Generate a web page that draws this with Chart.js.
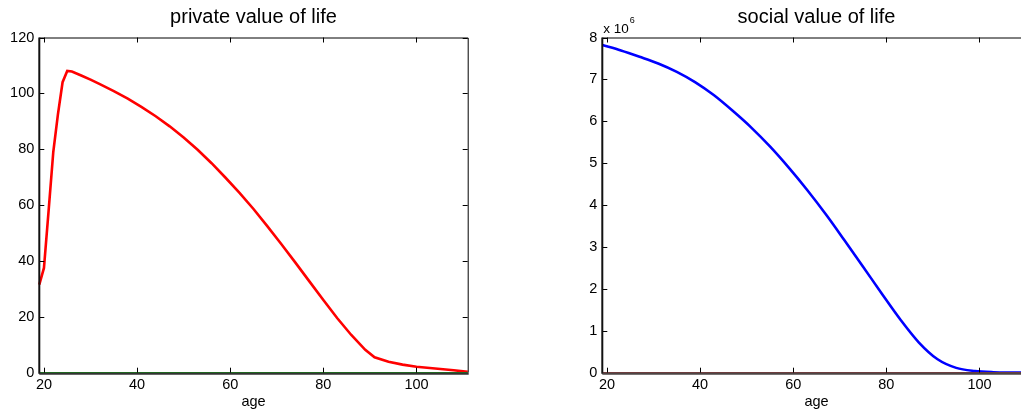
<!DOCTYPE html>
<html>
<head>
<meta charset="utf-8">
<script src="https://cdn.jsdelivr.net/npm/chart.js@4.4.1/dist/chart.umd.min.js"></script>
<style>
  html, body { margin: 0; padding: 0; background: #fff; overflow: hidden; width: 1021px; height: 416px; }
  canvas { position: absolute; top: 0; }
  #privateChart { left: 0; }
  #socialChart { left: 560px; }
</style>
</head>
<body>
<canvas id="privateChart" width="480" height="416"></canvas>
<canvas id="socialChart" width="480" height="416"></canvas>
<script>
// private value of life
const privateAges = [19, 20, 21, 22, 23, 24, 25, 26, 28, 30, 32, 35, 38, 41, 44, 47, 50, 53, 56, 59, 62, 65, 68, 71, 74, 77, 80, 83, 86, 89, 91, 94, 97, 100, 104, 108, 111];
const privateValue = [31.5, 37.5, 58, 79, 92.5, 104, 108, 107.8, 106.4, 104.9, 103.3, 100.8, 98.1, 95.1, 91.8, 88.2, 84.2, 79.8, 75.0, 69.8, 64.4, 58.6, 52.4, 46.0, 39.4, 32.7, 26.0, 19.5, 13.5, 8.2, 5.5, 3.9, 2.9, 2.1, 1.5, 0.9, 0.3];

// social value of life
const socialAges = [19, 23, 27, 31, 35, 39, 43, 47, 51, 55, 59, 63, 67, 71, 75, 79, 83, 87, 91, 95, 99, 103, 107, 111];
const socialValue = [7.82e6, 7.69e6, 7.54e6, 7.38e6, 7.18e6, 6.93e6, 6.62e6, 6.25e6, 5.85e6, 5.40e6, 4.90e6, 4.36e6, 3.78e6, 3.16e6, 2.53e6, 1.89e6, 1.27e6, 0.72e6, 0.32e6, 0.115e6, 0.04e6, 0.012e6, 0.003e6, 0];

// flat series at zero
const zeroAges = [19, 111];
const zeroValue = [0, 0];

const xTicks = [20, 40, 60, 80, 100];
const privateYTicks = [0, 20, 40, 60, 80, 100, 120];
const socialYTicks = [0, 1e6, 2e6, 3e6, 4e6, 5e6, 6e6, 7e6, 8e6];

const FONT = "'Liberation Sans', Arial, Helvetica, sans-serif";

function points(xs, ys) {
  return xs.map((x, i) => ({ x: x, y: ys[i] }));
}

// matlab style box with inward ticks
const framePlugin = {
  id: 'frame',
  afterDatasetsDraw(chart, args, opts) {
    const { ctx, chartArea: a, scales } = chart;
    const x = scales.x, y = scales.y;
    const tl = 5;
    ctx.save();
    ctx.strokeStyle = '#000';
    ctx.lineWidth = 1;
    ctx.beginPath();
    ctx.moveTo(a.left, a.top + 0.5);
    ctx.lineTo(a.right + 0.5, a.top + 0.5);
    ctx.lineTo(a.right + 0.5, a.bottom);
    ctx.stroke();
    x.ticks.forEach(t => {
      const px = Math.round(x.getPixelForValue(t.value)) + 0.5;
      ctx.beginPath();
      ctx.moveTo(px, a.top); ctx.lineTo(px, a.top + tl);
      ctx.moveTo(px, a.bottom); ctx.lineTo(px, a.bottom - tl);
      ctx.stroke();
    });
    y.ticks.forEach(t => {
      const py = Math.round(y.getPixelForValue(t.value)) + 0.5;
      ctx.beginPath();
      ctx.moveTo(a.left, py); ctx.lineTo(a.left + tl, py);
      ctx.moveTo(a.right, py); ctx.lineTo(a.right - tl, py);
      ctx.stroke();
    });
    ctx.lineWidth = 2;
    ctx.strokeStyle = '#111';
    ctx.beginPath();
    ctx.moveTo(a.left, a.top);
    ctx.lineTo(a.left, a.bottom + 1);
    ctx.stroke();
    ctx.strokeStyle = opts.bottomColor || '#444';
    ctx.beginPath();
    ctx.moveTo(a.left, a.bottom + 1);
    ctx.lineTo(a.right + 1, a.bottom + 1);
    ctx.stroke();
    if (opts.exponent) {
      ctx.fillStyle = '#000';
      ctx.textAlign = 'left';
      ctx.textBaseline = 'alphabetic';
      ctx.font = '13.5px ' + FONT;
      ctx.fillText('x 10', a.left + 1, a.top - 5);
      const w = ctx.measureText('x 10').width;
      ctx.font = '9px ' + FONT;
      ctx.fillText(opts.exponent, a.left + 1 + w + 1, a.top - 15);
    }
    ctx.restore();
  }
};

function makeChart(id, series, yMax, yTicks, title, yAxisWidth, rightPad, frameOpts) {
  return new Chart(document.getElementById(id), {
    type: 'line',
    data: { datasets: series },
    options: {
      responsive: false,
      animation: false,
      events: [],
      layout: { padding: { left: 0, right: rightPad, top: 0, bottom: 0 } },
      elements: { point: { radius: 0 } },
      scales: {
        x: {
          type: 'linear',
          min: 19,
          max: 111,
          afterBuildTicks: s => { s.ticks = xTicks.map(v => ({ value: v })); },
          afterFit: s => { s.height = 43.3; },
          grid: { display: false, drawTicks: false },
          border: { display: false },
          ticks: { color: '#000', padding: 4, font: { family: FONT, size: 14.5 } },
          title: { display: true, text: 'age', color: '#000', padding: { top: 0, bottom: 5 }, font: { family: FONT, size: 14.5 } }
        },
        y: {
          min: 0,
          max: yMax,
          afterBuildTicks: s => { s.ticks = yTicks.map(v => ({ value: v })); },
          afterFit: s => { s.width = yAxisWidth; },
          grid: { display: false, drawTicks: false },
          border: { display: false },
          ticks: {
            color: '#000', padding: 5, font: { family: FONT, size: 14.5 },
            callback: v => frameOpts.exponent ? String(v / 1e6) : String(v)
          }
        }
      },
      plugins: {
        legend: { display: false },
        tooltip: { enabled: false },
        title: {
          display: true, text: title, fullSize: false, color: '#000',
          padding: { top: 5, bottom: 8.5 },
          font: { family: FONT, size: 20, weight: 'normal' }
        },
        frame: frameOpts
      }
    },
    plugins: [framePlugin]
  });
}

makeChart('privateChart', [
  { data: points(zeroAges, zeroValue), borderColor: '#1d7a1d', borderWidth: 1.5, clip: 4, tension: 0 },
  { data: points(privateAges, privateValue), borderColor: '#ff0000', borderWidth: 2.6, clip: 4, tension: 0 }
], 120, privateYTicks, 'private value of life', 39.3, 12.3, { bottomColor: '#333' });

makeChart('socialChart', [
  { data: points(zeroAges, zeroValue), borderColor: '#7a3b3b', borderWidth: 1.5, clip: 4, tension: 0 },
  { data: points(socialAges, socialValue), borderColor: '#0000ff', borderWidth: 2.6, clip: 4, cubicInterpolationMode: 'monotone' }
], 8e6, socialYTicks, 'social value of life', 42.3, 9.3, { bottomColor: '#4d4545', exponent: '6' });
</script>
</body>
</html>
